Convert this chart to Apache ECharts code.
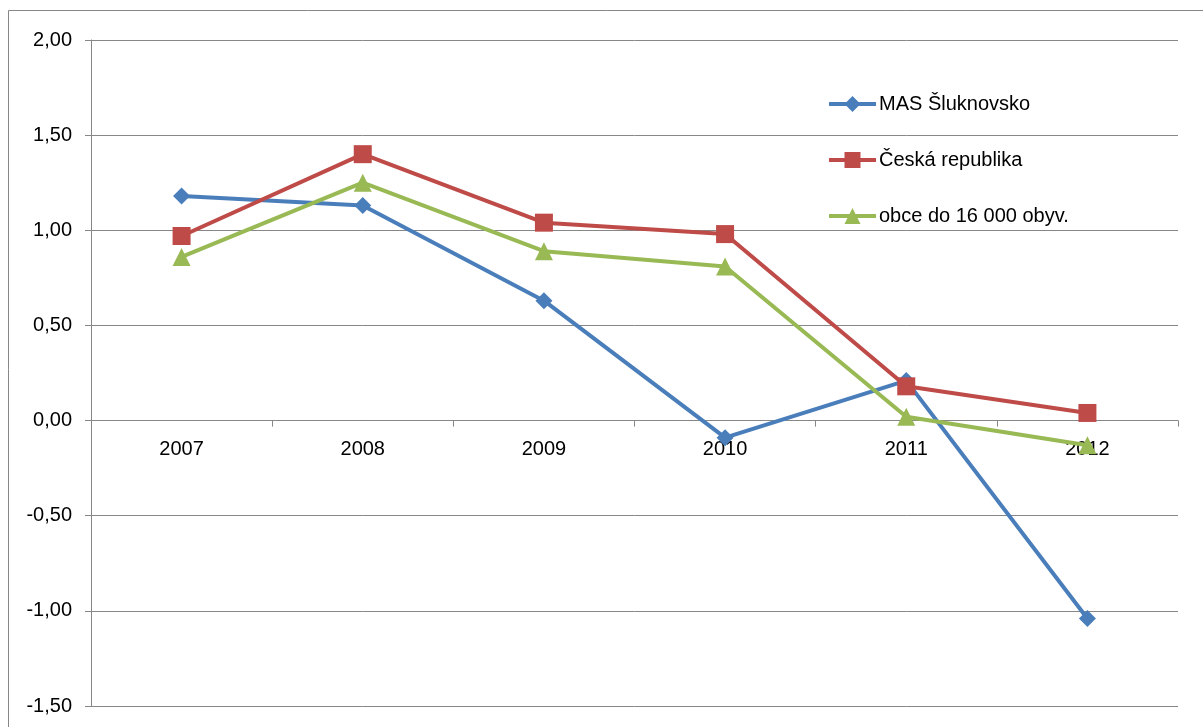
<!DOCTYPE html>
<html>
<head>
<meta charset="utf-8">
<script src="https://cdn.jsdelivr.net/npm/echarts@6/dist/echarts.min.js"></script>
<style>
  html, body { margin: 0; padding: 0; background: #fff; }
  #main { width: 1203px; height: 727px; }
</style>
</head>
<body>
<div id="main"></div>
<script type="text/javascript">
    // data
    var years = ['2007', '2008', '2009', '2010', '2011', '2012'];
    var masSluknovsko = [1.18, 1.13, 0.63, -0.09, 0.21, -1.04];
    var ceskaRepublika = [0.97, 1.40, 1.04, 0.98, 0.18, 0.04];
    var obceDo16000 = [0.86, 1.25, 0.89, 0.81, 0.02, -0.13];

    var gridColor = '#878787';
    var font = '"Liberation Sans", Arial, sans-serif';
    var yMin = -1.5, yMax = 2;
    var gridTop = 40, gridBottom = 21, chartHeight = 727;

    var myChart = echarts.init(document.getElementById('main'));

    // category axis sits on the zero line, labels with it
    var plotH = chartHeight - gridTop - gridBottom;
    var zeroOffset = -plotH * (0 - yMin) / (yMax - yMin);

    function lineSeries(name, data, color, symbol, size) {
        return {
            name: name,
            type: 'line',
            data: data,
            symbol: symbol,
            symbolSize: size,
            showAllSymbol: true,
            lineStyle: { color: color, width: 4 },
            itemStyle: { color: color },
            emphasis: { disabled: true },
            z: 3
        };
    }

    var option = {
        animation: false,
        backgroundColor: '#fff',
        textStyle: { fontFamily: font },
        graphic: [{
            type: 'rect',
            shape: { x: 8.5, y: 10.5, width: 1200, height: 730 },
            style: { fill: 'none', stroke: gridColor, lineWidth: 1 },
            silent: true
        }],
        grid: {
            left: 91,
            right: 25,
            top: gridTop,
            bottom: gridBottom,
            outerBoundsMode: 'none'
        },
        legend: {
            orient: 'vertical',
            left: 822,
            top: 89,
            itemGap: 36,
            itemWidth: 47,
            itemHeight: 20,
            lineStyle: { width: 4 },
            textStyle: { fontSize: 20, color: '#000', fontFamily: font, padding: [0, 0, 0, -2] },
            data: ['MAS Šluknovsko', 'Česká republika', 'obce do 16 000 obyv.']
        },
        xAxis: {
            type: 'category',
            data: years,
            boundaryGap: true,
            offset: zeroOffset,
            axisLine: { onZero: false, lineStyle: { color: gridColor, width: 1 } },
            axisTick: { show: true, length: 6, lineStyle: { color: gridColor } },
            axisLabel: { fontSize: 20, color: '#000', margin: 19 },
            splitLine: { show: false }
        },
        yAxis: {
            type: 'value',
            min: yMin,
            max: yMax,
            interval: 0.5,
            axisLine: { show: true, lineStyle: { color: gridColor, width: 1 } },
            axisTick: { show: true, length: 6, lineStyle: { color: gridColor } },
            axisLabel: {
                fontSize: 20,
                color: '#000',
                margin: 19,
                formatter: function (v) { return v.toFixed(2).replace('.', ','); }
            },
            splitLine: { show: true, lineStyle: { color: gridColor, width: 1 } }
        },
        series: [
            lineSeries('MAS Šluknovsko', masSluknovsko, '#4A7EBB', 'diamond', 17),
            lineSeries('Česká republika', ceskaRepublika, '#BE4B48', 'rect', 18),
            lineSeries('obce do 16 000 obyv.', obceDo16000, '#98B954', 'triangle', 18)
        ]
    };

    myChart.setOption(option);
</script>
</body>
</html>
